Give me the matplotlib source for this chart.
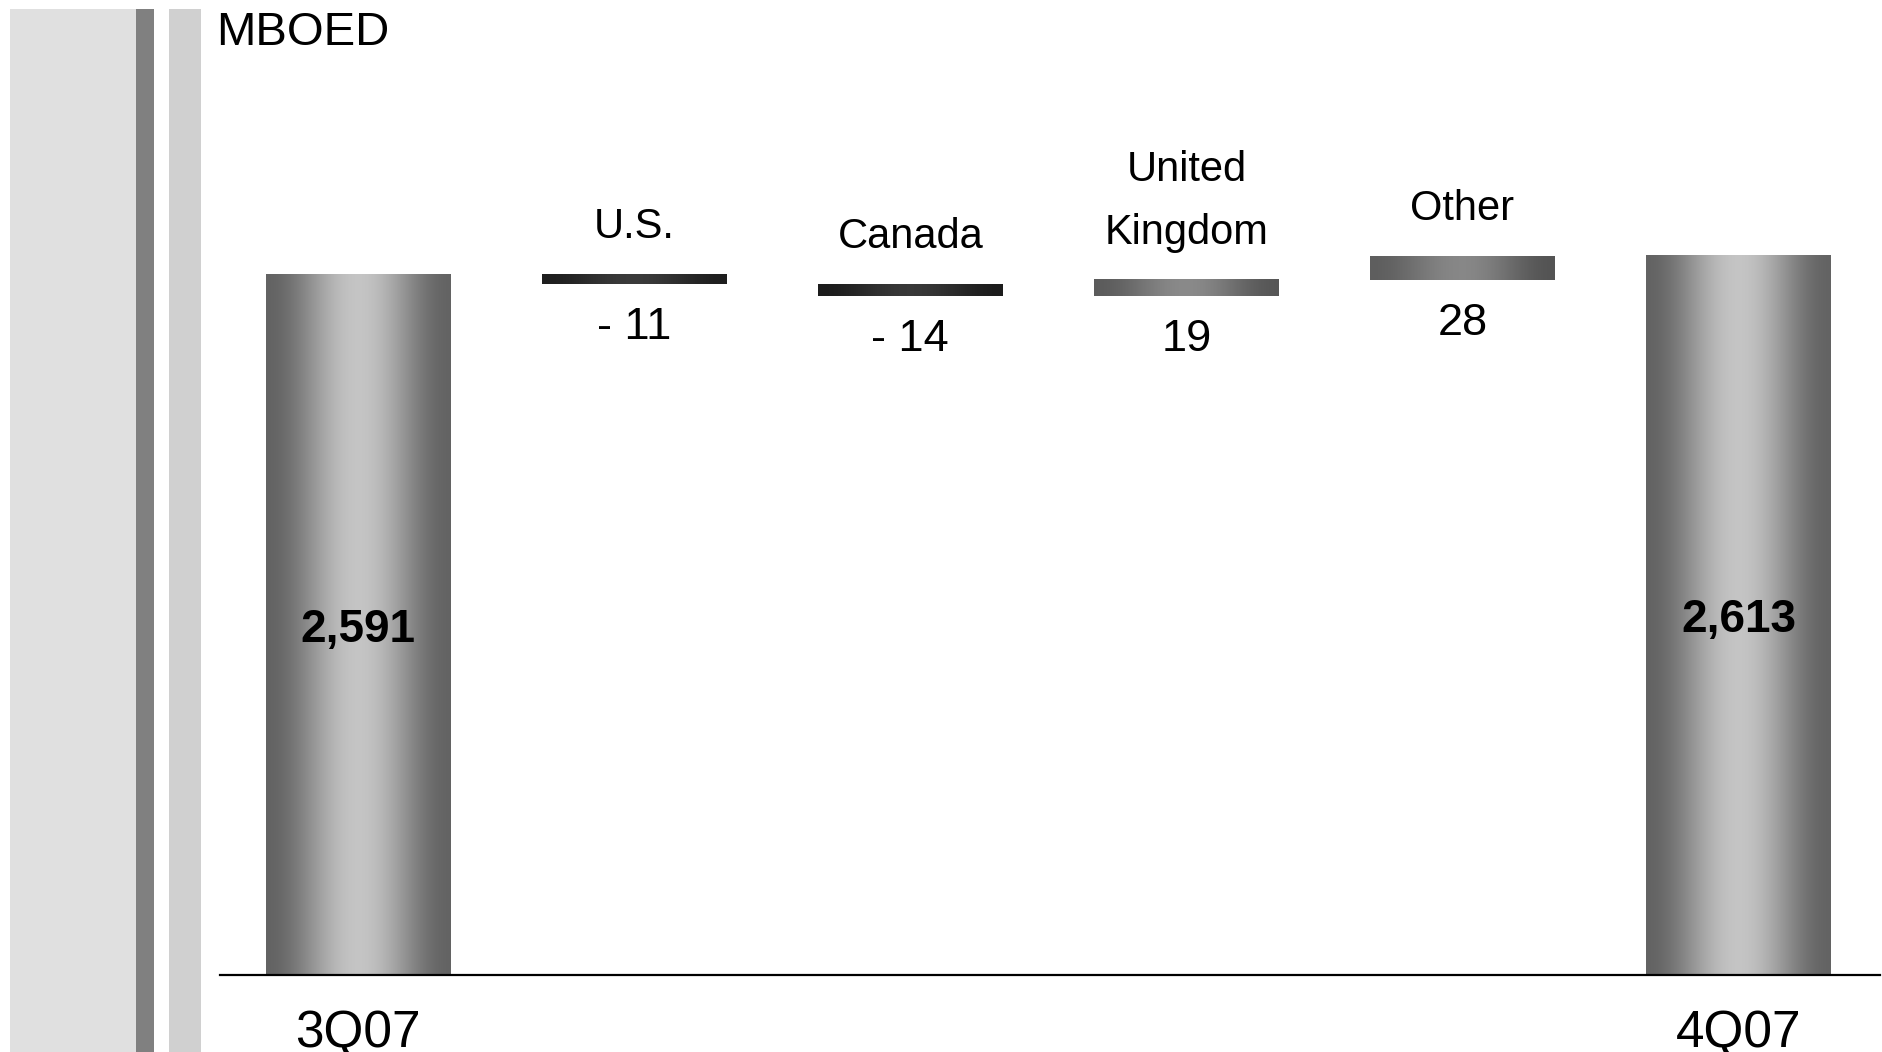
import numpy as np
import matplotlib.pyplot as plt
from matplotlib.patches import Rectangle

plt.rcParams['font.family'] = ['Liberation Sans', 'DejaVu Sans']

# production bridge in MBOED, quarter to quarter
start_label = '3Q07'
end_label = '4Q07'
start_value = 2591
end_value = 2613
regions = ['U.S.', 'Canada', 'United\nKingdom', 'Other']
changes = [-11, -14, 19, 28]

# (left edge, centre, right edge) grey levels for the cylinder shading
total_shade = (0.39, 0.77, 0.39)
change_shades = [(0.12, 0.23, 0.12), (0.11, 0.22, 0.11),
                 (0.36, 0.54, 0.34), (0.37, 0.53, 0.33)]

W, H = 1883, 1052
fig = plt.figure(figsize=(W / 100, H / 100), dpi=100)

# grey band down the left side
for x0, x1, c in [(10, 136, '#e0e0e0'), (136, 154, '#808080'), (169, 201, '#d0d0d0')]:
    fig.add_artist(Rectangle((x0 / W, 0), (x1 - x0) / W, (H - 9) / H,
                             transform=fig.transFigure, color=c, lw=0))

fig.text(216 / W, (H - 45) / H, 'MBOED', fontsize=34, va='baseline', ha='left')

ax = fig.add_axes([220 / W, (H - 975) / H, 1660 / W, 975 / H])
ylo, yhi = 1769, 2913
ax.set_xlim(-0.5, 5.512)
ax.set_ylim(ylo, yhi)


def shade(ax, patch, levels):
    left, centre, right = levels
    t = np.linspace(0, 1, 256)
    p = np.sin(np.pi * t) ** 2
    edge = np.where(t < 0.5, left, right)
    row = edge + (centre - edge) * p
    img = np.repeat(row[None, :, None], 3, axis=2)
    x, y = patch.get_x(), patch.get_y()
    w, h = patch.get_width(), patch.get_height()
    floor = max(y, ax.get_ylim()[0])
    ax.imshow(img, extent=[x, x + w, floor, y + h], aspect='auto',
              interpolation='bilinear', zorder=2)


# waterfall steps
running = start_value
bottoms, heights = [], []
for d in changes:
    bottoms.append(min(running, running + d))
    heights.append(abs(d))
    running += d

width = 0.67
totals = ax.bar([0, 5], [start_value, end_value], width=width,
                facecolor='none', edgecolor='none')
steps = ax.bar(range(1, 5), heights, bottom=bottoms, width=width,
               facecolor='none', edgecolor='none')

for p in totals:
    shade(ax, p, total_shade)
for p, lv in zip(steps, change_shades):
    shade(ax, p, lv)

ax.set_xlim(-0.5, 5.512)
ax.set_ylim(ylo, yhi)

for i, (lab, v) in enumerate([(start_label, start_value), (end_label, end_value)]):
    x = i * 5
    ax.text(x, (ylo + v) / 2, f'{v:,}', ha='center', va='center_baseline',
            fontsize=33, fontweight='bold', zorder=3)
    ax.annotate(lab, (x, ylo), xytext=(0, -72), textcoords='offset pixels',
                ha='center', va='baseline', fontsize=37, annotation_clip=False)

for i, (name, d, b, h) in enumerate(zip(regions, changes, bottoms, heights), start=1):
    ax.annotate(name, (i, b + h), xytext=(0, 27), textcoords='offset pixels',
                ha='center', va='bottom', fontsize=30, linespacing=1.72,
                multialignment='center')
    txt = f'- {abs(d)}' if d < 0 else str(d)
    ax.annotate(txt, (i, b), xytext=(0, -55), textcoords='offset pixels',
                ha='center', va='baseline', fontsize=32.5)

for s in ['top', 'left', 'right']:
    ax.spines[s].set_visible(False)
ax.spines['bottom'].set_linewidth(1.6)
ax.spines['bottom'].set_zorder(4)
ax.set_xticks([])
ax.set_yticks([])
ax.patch.set_alpha(0)

fig.savefig('out.png', dpi=100)
